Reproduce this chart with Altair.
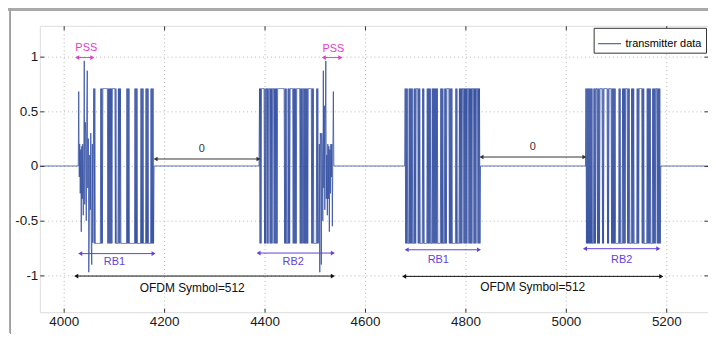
import altair as alt
import pandas as pd

# ---------------- data ----------------
LEVEL = 0.707  # amplitude of the RB (QPSK-like) samples

# first sample index of each non-zero burst
BLOCK_STARTS = [4030, 4390, 4680, 5040]

# PSS samples (start of RB1 in symbol 1, end of RB2 in symbol 1)
PSS_A = [0.68, -0.1, 0.2, -0.25, 0.15, -0.6, 0.18, -0.3, 0.2, -0.45,
         0.1, 0.96, -0.35, 0.4, 0.3, -0.5, 0.55, 0.87, -0.2, 0.25,
         -0.97, -0.6, 0.1, -0.4, 0.3, -0.75, -0.9, 0.2, -0.7, 0.1]
PSS_B = [-0.7, 0.2, -0.97, 0.3, 0.25, -0.9, 0.3, 0.1, -0.5, 0.87,
         -0.2, 0.55, -0.4, 0.35, 0.96, -0.3, 0.1, -0.45, 0.2, -0.3,
         0.18, -0.6, 0.15, -0.25, 0.2, -0.1, 0.2, -0.55, 0.1, 0.68]

# run lengths of +LEVEL / -LEVEL samples (alternating, first run positive)
RB1_SYM1_RUNS = [1, 1, 1, 11, 1, 1, 1, 1, 10, 1, 1, 1, 1, 1, 1, 1, 1, 1, 6, 1, 1, 4,
                 1, 1, 1, 1, 1, 12, 1, 1, 1, 1, 1, 11, 1, 1, 1, 1, 1, 7, 1, 1, 1, 1, 1,
                 5, 1, 1, 1, 1, 1, 5, 1, 1, 1, 1, 1, 1]
RB2_SYM1_RUNS = [1, 1, 1, 1, 6, 1, 1, 1, 2, 1, 1, 1, 3, 1, 1, 1, 1, 1, 3, 1, 1, 1, 1,
                 1, 1, 1, 14, 1, 1, 1, 1, 3, 1, 1, 1, 1, 6, 1, 1, 1, 1, 1, 1, 1, 7, 1,
                 1, 1, 1, 1, 2, 1, 1, 1, 1, 1, 1, 1, 1, 1, 7, 1, 1, 1, 1, 6, 1, 1, 1, 1]
RB1_SYM2_RUNS = [1, 1, 1, 1, 1, 3, 1, 1, 1, 1, 1, 1, 1, 3, 1, 1, 1, 1, 4, 1, 1, 1, 1,
                 5, 1, 1, 1, 6, 1, 1, 1, 1, 1, 1, 1, 3, 1, 1, 1, 1, 1, 1, 1, 1, 1, 1,
                 1, 6, 1, 1, 1, 1, 1, 3, 1, 1, 1, 1, 5, 1, 1, 1, 1, 1, 1, 7, 1, 1, 1,
                 4, 1, 1, 1, 1, 1, 1, 3, 1, 1, 1, 1, 1, 1, 1, 3, 1, 1, 1, 1, 1, 1, 1,
                 3, 1, 1, 1, 1, 1, 3, 1, 1, 1, 1, 1]
RB2_SYM2_RUNS = [1, 1, 1, 1, 1, 1, 1, 1, 1, 1, 1, 1, 1, 3, 1, 1, 1, 1, 3, 1, 1, 1, 1,
                 1, 5, 1, 1, 1, 7, 1, 1, 1, 5, 1, 1, 1, 1, 1, 1, 1, 1, 7, 1, 1, 1, 4,
                 1, 1, 1, 1, 1, 1, 4, 1, 1, 1, 1, 4, 1, 1, 1, 1, 1, 6, 1, 1, 1, 1, 6,
                 1, 1, 1, 1, 6, 1, 1, 1, 1, 1, 1, 1, 4, 1, 1, 1, 1, 1, 1, 3, 1, 1, 1,
                 1, 1, 1, 1]

SIGNAL_EDGES = [3900, 5300]  # signal is zero outside the bursts

X_TICKS = [4000, 4200, 4400, 4600, 4800, 5000, 5200]
Y_TICKS = [-1, -0.5, 0, 0.5, 1]

# annotation arrows
ARROW_X1 = [4027, 4518, 4183, 4832, 4033, 4388, 4683, 5038, 4025, 4678]
ARROW_X2 = [4057, 4551, 4388, 5037, 4179, 4536, 4827, 5184, 4536, 5190]
ARROW_Y = [0.99, 0.99, 0.064, 0.082, -0.80, -0.795, -0.765, -0.755, -1.005, -1.008]
ARROW_KIND = ["PSS", "PSS", "gap", "gap", "RB", "RB", "RB", "RB", "OFDM", "OFDM"]

LABEL_TEXT = ["PSS", "PSS", "0", "0", "RB1", "RB2", "RB1", "RB2",
              "OFDM Symbol=512", "OFDM Symbol=512"]
LABEL_X = [4045, 4537, 4275, 4934, 4101, 4457, 4746, 5111, 4256, 4934]
LABEL_Y = [1.075, 1.07, 0.155, 0.17, -0.88, -0.875, -0.86, -0.855, -1.11, -1.106]

# ---------------- styles ----------------
KIND_COLOR = {"PSS": "#e23cc8", "gap": "#333333", "RB": "#6442dc", "OFDM": "#111111"}
KIND_SIZE = {"PSS": 11, "gap": 11, "RB": 11, "OFDM": 12}
LINE_COLOR = "#2b479d"
FONT = "Liberation Sans"


def expand_runs(runs):
    vals, sign = [], 1.0
    for r in runs:
        vals.extend([sign * LEVEL] * r)
        sign = -sign
    return vals


blocks = [
    PSS_A + expand_runs(RB1_SYM1_RUNS),
    expand_runs(RB2_SYM1_RUNS) + PSS_B,
    expand_runs(RB1_SYM2_RUNS),
    expand_runs(RB2_SYM2_RUNS),
]

xs_, vs_ = [SIGNAL_EDGES[0]], [0.0]
for start, vals in zip(BLOCK_STARTS, blocks):
    xs_.append(start - 1)
    vs_.append(0.0)
    for i, v in enumerate(vals):
        xs_.append(start + i)
        vs_.append(v)
    xs_.append(start + len(vals))
    vs_.append(0.0)
xs_.append(SIGNAL_EDGES[1])
vs_.append(0.0)

signal = pd.DataFrame({"n": xs_, "v": vs_, "series": "transmitter data"})

arrows = pd.DataFrame({"x1": ARROW_X1, "x2": ARROW_X2, "y": ARROW_Y, "kind": ARROW_KIND})
heads = pd.DataFrame({
    "x": ARROW_X1 + ARROW_X2,
    "y": ARROW_Y + ARROW_Y,
    "kind": ARROW_KIND + ARROW_KIND,
    "shape": ["triangle-left"] * len(ARROW_X1) + ["triangle-right"] * len(ARROW_X2),
})
labels = pd.DataFrame({"x": LABEL_X, "y": LABEL_Y, "text": LABEL_TEXT,
                       "kind": ARROW_KIND})

W, H = 672, 288
xs = alt.Scale(domain=[3952.5, 5283], nice=False, zero=False)
ys = alt.Scale(domain=[-1.335, 1.28], nice=False, zero=False)

AX_COMMON = dict(title=None, domain=False, tickSize=4, offset=-4, tickColor="#333")

line = alt.Chart(signal).mark_line(strokeWidth=0.75, clip=True).encode(
    x=alt.X("n:Q", scale=xs, axis=alt.Axis(
        orient="bottom", values=X_TICKS, format="d", grid=True,
        gridDash=[1, 3], gridColor="#b5b5b5", labelPadding=2,
        labelFontSize=13.5, labelFont=FONT, labelColor="#1a1a1a", **AX_COMMON)),
    y=alt.Y("v:Q", scale=ys, axis=alt.Axis(
        orient="left", values=Y_TICKS, grid=True,
        gridDash=[1, 3], gridColor="#b5b5b5", labelPadding=2,
        labelFontSize=13.5, labelFont=FONT, labelColor="#1a1a1a",
        labelExpr="datum.value < 0 ? '-' + format(-datum.value, '~g') : format(datum.value, '~g')",
        **AX_COMMON)),
    color=alt.Color("series:N", title=None,
                    scale=alt.Scale(domain=["transmitter data"], range=[LINE_COLOR]),
                    legend=alt.Legend(orient="top-right", offset=2, symbolType="stroke",
                                      symbolSize=529, symbolStrokeWidth=1,
                                      labelFontSize=11, labelFont=FONT,
                                      labelColor="#000", strokeColor="#333",
                                      fillColor="white", padding=4, labelOffset=4)),
)

# ticks on the top and right sides (MATLAB box style)
box_ticks = alt.Chart(labels).mark_point(opacity=0).encode(
    x=alt.X("x:Q", scale=xs, axis=alt.Axis(
        orient="top", values=X_TICKS, labels=False, grid=False, **AX_COMMON)),
    y=alt.Y("y:Q", scale=ys, axis=alt.Axis(
        orient="right", values=Y_TICKS, labels=False, grid=False, **AX_COMMON)),
)

ann_layers = []
for kind, col in KIND_COLOR.items():
    a = alt.Chart(arrows[arrows.kind == kind]).mark_rule(color=col, strokeWidth=1).encode(
        x=alt.X("x1:Q", scale=xs, axis=None), x2="x2:Q",
        y=alt.Y("y:Q", scale=ys, axis=None))
    h = alt.Chart(heads[heads.kind == kind]).mark_point(
        filled=True, size=22, opacity=1, color=col).encode(
        x=alt.X("x:Q", scale=xs, axis=None), y=alt.Y("y:Q", scale=ys, axis=None),
        shape=alt.Shape("shape:N", scale=None))
    t = alt.Chart(labels[labels.kind == kind]).mark_text(
        color=col, fontSize=KIND_SIZE[kind], font=FONT, align="center",
        baseline="middle").encode(
        x=alt.X("x:Q", scale=xs, axis=None), y=alt.Y("y:Q", scale=ys, axis=None),
        text="text:N")
    ann_layers += [a, h, t]

# figure frame (screenshot window edge)
frame_top = alt.Chart(signal).mark_rule(color="#aaaaaa", strokeWidth=2).encode(
    x=alt.value(-32), x2=alt.value(W), y=alt.value(-16.5))
frame_left = alt.Chart(signal).mark_rule(color="#a0a0a0", strokeWidth=1).encode(
    x=alt.value(-29.5), y=alt.value(-17), y2=alt.value(H + 21))

chart = alt.layer(line, box_ticks, *ann_layers, frame_top, frame_left).resolve_axis(
    x="independent", y="independent"
).properties(
    width=W, height=H,
    padding={"left": 32, "top": 17, "right": 0, "bottom": 21},
    autosize=alt.AutoSizeParams(type="none"),
).configure_view(stroke="#404040", strokeWidth=1).configure(font=FONT)

chart.save("out.html", embed_options={"renderer": "svg", "actions": False})
